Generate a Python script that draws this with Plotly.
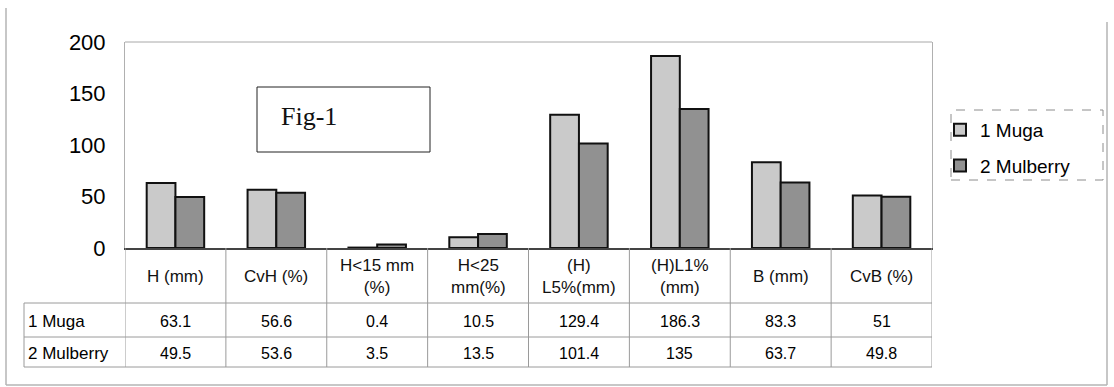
import plotly.graph_objects as go

categories = ["H (mm)", "CvH (%)", "H<15 mm (%)", "H<25 mm(%)", "(H) L5%(mm)", "(H)L1% (mm)", "B (mm)", "CvB (%)"]
header_labels = ["H (mm)", "CvH (%)", "H&lt;15 mm<br>(%)", "H&lt;25<br>mm(%)", "(H)<br>L5%(mm)", "(H)L1%<br>(mm)", "B (mm)", "CvB (%)"]
series_names = ["1 Muga", "2 Mulberry"]
muga = [63.1, 56.6, 0.4, 10.5, 129.4, 186.3, 83.3, 51]
mulberry = [49.5, 53.6, 3.5, 13.5, 101.4, 135, 63.7, 49.8]
muga_text = ["63.1", "56.6", "0.4", "10.5", "129.4", "186.3", "83.3", "51"]
mulberry_text = ["49.5", "53.6", "3.5", "13.5", "101.4", "135", "63.7", "49.8"]
y_ticks = [0, 50, 100, 150, 200]

W, H = 1114, 387
L, R, T, B = 125, 932, 42, 248


def px_x(px):
    return (px - L) / (R - L)


def px_y(py):
    return (B - py) / (B - T)


fig = go.Figure()
fig.add_trace(go.Bar(x=categories, y=muga, name=series_names[0],
                     marker=dict(color="#cacaca", line=dict(color="#111111", width=2)),
                     legendgroup="a"))
fig.add_trace(go.Bar(x=categories, y=mulberry, name=series_names[1],
                     marker=dict(color="#919191", line=dict(color="#111111", width=2)),
                     legendgroup="b"))

shapes = []
line_col = "#9a9a9a"
# plot area top border
shapes.append(dict(type="line", xref="paper", yref="paper", x0=0, x1=1, y0=1, y1=1,
                   line=dict(color="#a8a8a8", width=1)))
# table verticals at category boundaries
for i in range(len(categories) + 1):
    shapes.append(dict(type="line", xref="x", yref="paper", x0=i - 0.5, x1=i - 0.5,
                       y0=px_y(367), y1=0, line=dict(color=line_col, width=1)))
# row label column left edge
shapes.append(dict(type="line", xref="paper", yref="paper", x0=px_x(24), x1=px_x(24),
                   y0=px_y(367), y1=px_y(303), line=dict(color=line_col, width=1)))
# table horizontals
for py in (303, 337, 367):
    shapes.append(dict(type="line", xref="paper", yref="paper", x0=px_x(24), x1=1,
                       y0=px_y(py), y1=px_y(py), line=dict(color=line_col, width=1)))
# outer frame
frame_col = "#b4b4b4"
shapes.append(dict(type="line", xref="paper", yref="paper", x0=px_x(6), x1=px_x(6),
                   y0=px_y(385), y1=px_y(8), line=dict(color=frame_col, width=1.5)))
shapes.append(dict(type="line", xref="paper", yref="paper", x0=px_x(6), x1=px_x(1107),
                   y0=px_y(385), y1=px_y(385), line=dict(color=frame_col, width=1.5)))
shapes.append(dict(type="line", xref="paper", yref="paper", x0=px_x(1107), x1=px_x(1107),
                   y0=px_y(385), y1=px_y(22), line=dict(color=frame_col, width=1.5)))
# Fig-1 box
shapes.append(dict(type="rect", xref="paper", yref="paper", x0=px_x(257), x1=px_x(430),
                   y0=px_y(152), y1=px_y(87), line=dict(color="#222222", width=1),
                   fillcolor="white", layer="below"))
# legend box (dashed)
shapes.append(dict(type="rect", xref="paper", yref="paper", x0=px_x(951), x1=px_x(1103),
                   y0=px_y(180), y1=px_y(110), line=dict(color="#8c8c8c", width=1, dash="dash")))

annotations = []
annotations.append(dict(xref="paper", yref="paper", x=px_x(279), y=px_y(117), text="Fig-1",
                        showarrow=False, xanchor="left", yanchor="middle",
                        font=dict(family="Liberation Serif", size=26, color="#111111")))
hfont = dict(family="Liberation Sans, Arial", size=17, color="#111111")
vfont = dict(family="Liberation Sans, Arial", size=16, color="#000000")
rfont = dict(family="Liberation Sans, Arial", size=17, color="#000000")
for i, cat in enumerate(categories):
    annotations.append(dict(xref="x", yref="paper", x=cat, y=px_y(276), text=header_labels[i],
                            showarrow=False, xanchor="center", yanchor="middle", font=hfont))
    annotations.append(dict(xref="x", yref="paper", x=cat, y=px_y(321), text=muga_text[i],
                            showarrow=False, xanchor="center", yanchor="middle", font=vfont))
    annotations.append(dict(xref="x", yref="paper", x=cat, y=px_y(353), text=mulberry_text[i],
                            showarrow=False, xanchor="center", yanchor="middle", font=vfont))
annotations.append(dict(xref="paper", yref="paper", x=px_x(26), y=px_y(321), text=series_names[0],
                        showarrow=False, xanchor="left", yanchor="middle", font=rfont))
annotations.append(dict(xref="paper", yref="paper", x=px_x(26), y=px_y(353), text=series_names[1],
                        showarrow=False, xanchor="left", yanchor="middle", font=rfont))

fig.update_layout(
    width=W, height=H,
    margin=dict(l=L, r=W - R, t=T, b=H - B, pad=0),
    paper_bgcolor="white", plot_bgcolor="white",
    barmode="group", bargap=0.43, bargroupgap=0,
    showlegend=True,
    legend=dict(x=px_x(940), y=px_y(111), xanchor="left", yanchor="top",
                font=dict(family="Liberation Sans, Arial", size=19, color="#000000"),
                bgcolor="rgba(0,0,0,0)", borderwidth=0, traceorder="grouped",
                tracegroupgap=8, itemwidth=30),
    xaxis=dict(range=[-0.5, len(categories) - 0.5], showticklabels=False, ticks="",
               showgrid=False, zeroline=False, showline=True, linecolor="#444444", linewidth=1.5),
    yaxis=dict(range=[0, 200], tickvals=y_ticks, showgrid=False, zeroline=False,
               showline=True, linecolor="#b0b0b0", linewidth=1, mirror=True,
               ticks="", ticklabelstandoff=14,
               tickfont=dict(family="Liberation Sans, Arial", size=22, color="#000000")),
    shapes=shapes, annotations=annotations,
)

fig.write_html("out.html")
